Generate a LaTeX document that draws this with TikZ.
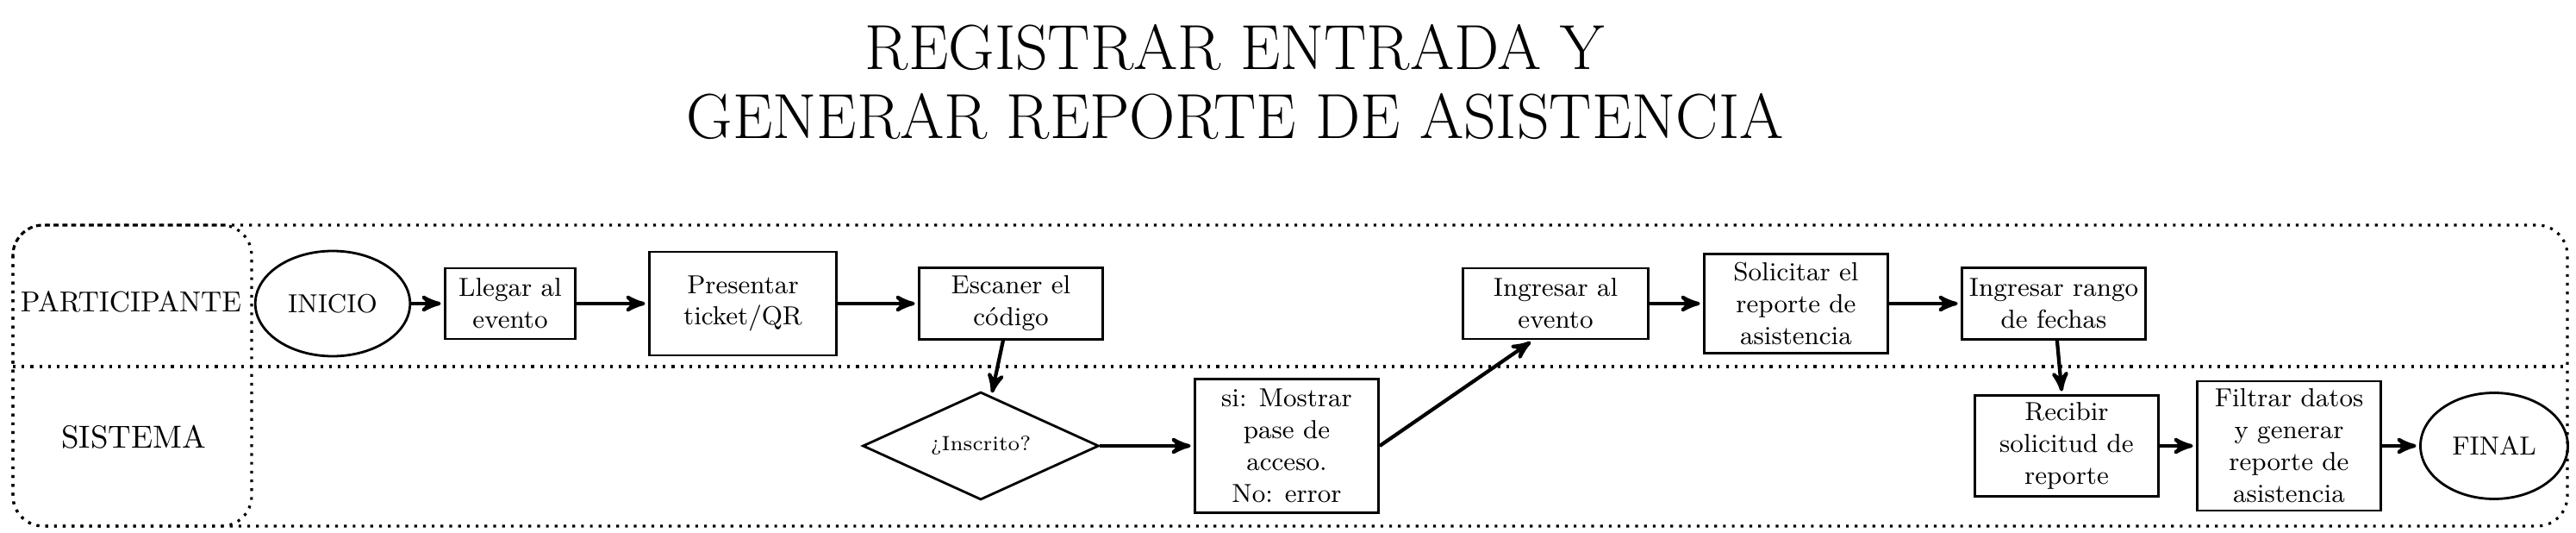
\documentclass[tikz,border=0pt]{standalone}
\usepackage{amsmath,amssymb}
\usepackage{tikz}
\usetikzlibrary{positioning,arrows,shapes.geometric}

\begin{document}
\begin{tikzpicture}[->,>=stealth',shorten >=1pt,auto,node distance=2.8cm,
                    line width=1.2pt]
  \tikzstyle{box}=[rectangle,draw=black,text=black,line width=0.8pt,align=center,
                   minimum width=2.13cm,minimum height=0.83cm,inner sep=1.5pt,
                   font=\fontsize{8.6}{10.5}\selectfont]
  \tikzstyle{terminal}=[ellipse,draw=black,line width=0.8pt,minimum width=1.6cm,
                        minimum height=1.22cm,font=\fontsize{8.6}{10.5}\selectfont]
  \tikzstyle{decision}=[diamond,draw=black,line width=0.8pt,aspect=2.2,inner sep=0pt,
                        minimum width=2.74cm,minimum height=1.25cm,
                        font=\fontsize{6.8}{8}\selectfont]
  \tikzstyle{lane}=[-,shorten >=0pt,draw=black,dotted,line width=0.9pt]
  \useasboundingbox (0,0) rectangle (29.89,-6.18);

  % title
  \node[align=center,font=\fontsize{21}{23}\selectfont] (title) at (14.33,-0.95)
        {REGISTRAR ENTRADA Y\\GENERAR REPORTE DE ASISTENCIA};

  % lanes
  \draw[lane,rounded corners=10pt] (0.15,-2.61) rectangle (29.79,-6.10);
  \draw[lane,rounded corners=10pt] (0.15,-2.61) rectangle (2.92,-6.10);
  \draw[lane] (0.15,-4.25) -- (29.79,-4.25);
  \node[font=\fontsize{9.5}{11}\selectfont] (participante) at (1.52,-3.50) {PARTICIPANTE};
  \node[font=\fontsize{10.5}{12}\selectfont] (sistema)     at (1.55,-5.07) {SISTEMA};

  % participante
  \node[terminal]  (inicio)    at (3.86,-3.52) {INICIO};
  \node[box,minimum width=1.51cm,minimum height=0.82cm]
                   (llegar)    [node distance=2.06cm,right of=inicio]    {Llegar al\\evento};
  \node[box,minimum width=2.17cm,minimum height=1.20cm]
                   (presentar) [node distance=2.70cm,right of=llegar]    {Presentar\\ticket/QR};
  \node[box]       (escaner)   [node distance=3.11cm,right of=presentar] {Escaner el\\código};
  \node[box,minimum width=2.15cm,minimum height=0.82cm]
                   (ingresar)  [node distance=6.32cm,right of=escaner]   {Ingresar al\\evento};
  \node[box,minimum height=1.15cm]
                   (solicitar) [node distance=2.79cm,right of=ingresar]  {Solicitar el\\reporte de\\asistencia};
  \node[box]       (rango)     [node distance=2.99cm,right of=solicitar] {Ingresar rango\\de fechas};

  % sistema
  \node[decision]  (inscrito)  at (11.38,-5.17) {¿Inscrito?};
  \node[box,minimum height=1.55cm]
                   (mostrar)   [node distance=3.55cm,right of=inscrito]  {si: Mostrar\\pase de\\acceso.\\No: error};
  \node[box,minimum height=1.17cm]
                   (recibir)   [node distance=9.05cm,right of=mostrar]   {Recibir\\solicitud de\\reporte};
  \node[box,minimum height=1.50cm]
                   (filtrar)   [node distance=2.58cm,right of=recibir]   {Filtrar datos\\y generar\\reporte de\\asistencia};
  \node[terminal,minimum width=1.54cm,minimum height=1.23cm]
                   (final)     [node distance=2.38cm,right of=filtrar]   {FINAL};

  \path (inicio)    edge (llegar)
        (llegar)    edge (presentar)
        (presentar) edge (escaner)
        (escaner)   edge (inscrito)
        (inscrito)  edge (mostrar)
        (mostrar.east) edge ([xshift=-2.6mm]ingresar.south)
        (ingresar)  edge (solicitar)
        (solicitar) edge (rango)
        (rango)     edge (recibir)
        (recibir)   edge (filtrar)
        (filtrar)   edge (final);
\end{tikzpicture}
\end{document}
